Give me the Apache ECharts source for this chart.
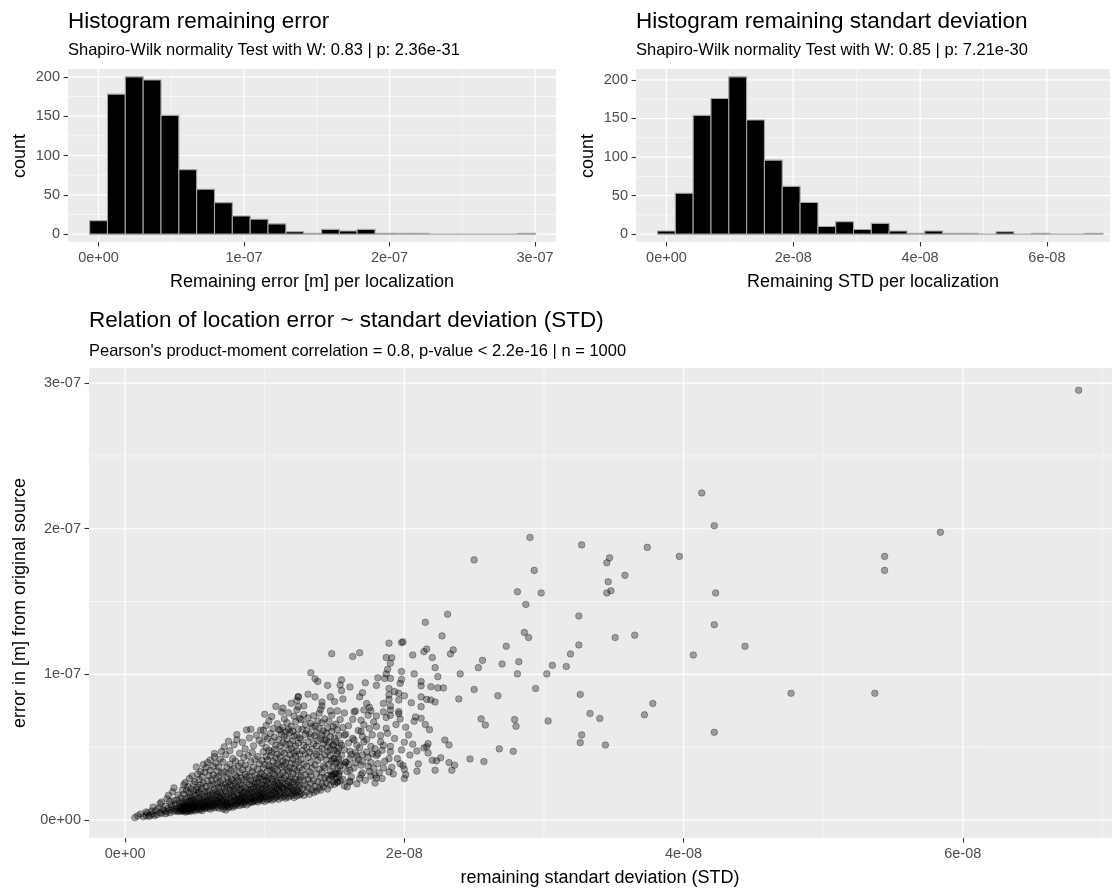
<!DOCTYPE html>
<html>
<head>
<meta charset="utf-8">
<script src="https://cdn.jsdelivr.net/npm/echarts@6/dist/echarts.min.js"></script>
<style>
  html, body { margin: 0; padding: 0; background: #ffffff; }
  #chart { width: 1114px; height: 890px; }
</style>
</head>
<body>
<div id="chart"></div>
<script>
// All lengths below are in nanometres (1 nm = 1e-9 m).

// ---- Histogram of the remaining error ----
const errBinCenters = [0, 12.26, 24.52, 36.78, 49.04, 61.3, 73.56, 85.82, 98.08, 110.34, 122.6, 134.86,
  147.12, 159.38, 171.64, 183.9, 196.16, 208.42, 220.68, 232.94, 245.2, 257.46, 269.72, 281.98, 294.24];
const errCounts = [17, 178, 200, 196, 151, 82, 57, 40, 23, 19, 13, 3, 1, 6, 4, 6, 1, 1, 1, 0, 0, 0, 0, 0, 1];

// ---- Histogram of the remaining standard deviation ----
const stdBinCenters = [0, 2.81, 5.62, 8.43, 11.24, 14.05, 16.86, 19.67, 22.48, 25.29, 28.1, 30.91,
  33.72, 36.53, 39.34, 42.15, 44.96, 47.77, 50.58, 53.39, 56.2, 59.01, 61.82, 64.63, 67.44];
const stdCounts = [4, 53, 154, 176, 204, 148, 96, 62, 41, 10, 16, 6, 14, 4, 1, 4, 1, 1, 0, 3, 0, 1, 0, 0, 1];

// ---- Tick values and labels ----
const errTickValues = [0, 100, 200, 300];
const errTickLabels = ['0e+00', '1e-07', '2e-07', '3e-07'];
const errMinorValues = [50, 150, 250];
const stdTickValues = [0, 20, 40, 60];
const stdTickLabels = ['0e+00', '2e-08', '4e-08', '6e-08'];
const stdMinorValues = [10, 30, 50, 70];
const countTickValues = [0, 50, 100, 150, 200];
const countTickLabels = ['0', '50', '100', '150', '200'];
const countMinorValues = [25, 75, 125, 175];

// ---- Scatter: [std, error] per localization ----
const lowCorner = [[0.7,1.6],[0.9,2.8],[1.1,4.1],[1.3,2.2],[1.5,3.0],[1.6,4.8],[1.7,2.4],[1.8,3.3],[1.9,6.1],[2.0,4.2],
  [2.1,2.9],[2.2,6.5],[2.3,3.7],[2.4,8.2],[2.5,11.2],[2.5,5.1],[2.6,12.3],[2.6,4.4],[2.7,7.0],[2.8,6.3],[2.9,4.3],
  [2.9,9.4],[3.0,14.6],[3.0,5.6],[3.1,17.0],[3.1,7.9],[3.2,12.8],[3.2,4.9],[3.3,10.2],[3.3,6.8],[3.4,8.7],[3.4,19.3],
  [3.5,22.0],[3.5,5.9],[3.5,13.4],[3.6,7.4],[3.6,10.9],[3.7,13.6],[3.7,6.1],[3.8,17.1],[3.8,8.3],[3.8,5.8],[3.9,9.1],
  [3.9,6.7],[3.9,11.8],[4.0,7.6],[4.0,15.2],[4.0,5.9],[4.0,9.8],[4.1,8.4],[4.1,6.4],[4.1,20.5],[4.1,12.6],[4.2,7.2],
  [4.2,9.3],[1.5,5.5],[2.0,8.8]];

// dense core, listed column by column: [std, [errors...]]
const denseColumns = [
  [4.2,[6.3,11.5,17.8,24.1,8.9]], [4.3,[5.4,9.7,14.3,25.6,7.5]], [4.4,[7.9,12.2,20.4,6.1,10.3,8.6]],
  [4.5,[5.8,8.1,15.6,22.9,9.2,7.0]], [4.6,[6.6,10.8,18.7,28.4,13.1]], [4.7,[7.3,9.5,12.9,21.3,16.2,5.9]],
  [4.8,[8.4,11.1,30.2,14.8,6.8]], [4.9,[7.7,19.9,10.1,24.7,13.6,9.0]], [5.0,[6.2,8.8,16.9,26.3,12.0]],
  [5.1,[36.4,9.9,14.1,20.8,7.1,11.7]], [5.2,[8.2,18.2,31.5,10.6,22.4]], [5.3,[6.9,12.5,15.3,27.8,9.4,19.1]],
  [5.4,[7.6,13.8,24.0,33.2,10.9]], [5.5,[8.5,11.3,17.4,29.6,6.4,21.7]], [5.6,[9.6,14.6,38.1,12.3,25.5]],
  [5.7,[8.9,10.4,19.5,32.8,16.0,7.8]], [5.8,[9.1,13.0,22.9,35.9,11.6]], [5.9,[39.4,8.0,15.8,26.9,18.9,10.7]],
  [6.0,[9.3,12.7,20.1,30.4,14.4]], [6.1,[7.4,11.0,17.0,34.1,23.6,41.2]], [6.2,[10.0,15.0,27.2,13.5,8.7]],
  [6.3,[9.8,18.4,36.8,12.1,24.5,31.0]], [6.4,[45.6,43.3,11.4,16.6,21.0,8.3]], [6.5,[10.5,14.0,28.7,38.9,19.6]],
  [6.6,[9.0,13.3,24.8,33.6,17.7,12.6]], [6.7,[36.4,11.9,15.7,22.2,8.1,29.9]], [6.8,[10.2,19.0,41.8,14.9,26.0]],
  [6.9,[12.8,9.5,32.3,17.3,23.1,47.0]],
  [7.0,[7.6,11.8,18.3,27.5,39.7,14.2]], [7.1,[8.9,13.6,21.9,33.1,10.4,50.2]], [7.2,[6.8,16.1,24.6,44.8,12.0,19.3]],
  [7.3,[9.7,14.5,29.2,36.0,11.2,22.7]], [7.4,[54.0,10.9,17.6,26.1,8.4,31.8]], [7.5,[12.3,20.5,38.3,15.4,9.2,47.5,24.0]],
  [7.6,[11.5,18.8,28.0,13.9,33.9]], [7.7,[10.1,16.4,23.3,42.1,8.7,27.0]], [7.8,[12.9,21.2,35.4,15.9,19.8,51.6]],
  [7.9,[9.6,14.3,25.2,30.7,11.1,40.4]], [8.0,[58.6,55.0,13.0,18.0,22.5,29.4,10.8]], [8.1,[12.2,16.8,26.7,36.9,14.7]],
  [8.2,[9.9,20.3,24.3,45.7,13.4,32.6]], [8.3,[11.9,17.2,28.9,15.1,39.0,21.5]], [8.4,[10.5,14.9,23.8,34.5,19.1,53.2]],
  [8.5,[13.2,18.5,27.6,42.9,16.3,11.4]], [8.6,[12.6,22.1,31.3,15.5,37.7,48.8]], [8.7,[10.3,19.6,25.9,14.1,61.8,29.8]],
  [8.8,[13.7,17.5,35.0,21.0,44.2]], [8.9,[11.6,16.0,24.4,30.1,18.6,56.3]], [9.0,[62.3,12.5,20.9,27.3,39.9,15.2]],
  [9.1,[14.4,18.1,23.0,33.0,12.1,46.4]], [9.2,[13.1,21.8,26.4,16.7,51.0,36.2]], [9.3,[15.6,19.4,30.9,12.8,41.5,24.9]],
  [9.4,[14.0,17.9,22.6,28.3,58.1]], [9.5,[12.4,16.5,25.7,34.8,20.2,43.6]], [9.6,[13.8,18.7,29.1,38.6,23.4,54.7]],
  [9.7,[15.3,21.4,27.9,32.2,17.1,61.6,14.6]],
  [9.8,[13.3,19.0,24.2,31.6,40.8,52.5,16.2]], [9.9,[61.6,14.8,21.6,27.4,35.7,46.9,18.4]],
  [10.0,[72.6,12.7,17.3,23.7,30.0,38.1,57.2]], [10.1,[22.9,15.9,20.0,26.8,43.4,49.7,64.9]],
  [10.2,[13.9,18.2,25.0,33.5,41.1,55.8,28.6]], [10.3,[16.6,21.1,29.7,37.2,47.8,68.0,14.3]],
  [10.4,[15.0,19.8,24.7,34.3,44.0,59.4]], [10.5,[46.7,17.8,22.4,28.2,36.6,53.9,13.6,71.0]],
  [10.6,[16.9,20.6,26.2,31.9,40.2,62.7]], [10.7,[14.5,19.3,23.9,30.5,48.5,57.0,35.1]],
  [10.8,[78.0,18.0,22.0,27.1,42.6,51.3,15.7]], [10.9,[16.4,21.3,25.6,33.8,45.2,66.1,38.7]],
  [11.0,[14.2,20.4,29.0,37.9,55.1,61.8,24.1]], [11.1,[61.8,17.0,23.5,31.2,43.1,50.6,19.1]],
  [11.2,[15.5,22.8,27.7,36.3,47.0,58.8,74.2]], [11.3,[76.8,18.6,25.3,32.7,40.6,53.0,21.8,63.5]],
  [11.4,[37.6,16.1,20.8,28.4,45.9,57.7,69.3]], [11.5,[17.4,24.6,30.3,39.4,51.8,60.5,14.9]],
  [11.6,[19.6,23.2,34.6,42.3,55.6,66.8]], [11.7,[15.8,21.7,26.5,33.3,48.2,62.1,73.6]],
  [11.8,[18.3,27.8,36.0,44.7,52.2,59.9,23.0]], [11.9,[16.7,22.2,29.5,39.0,49.1,64.3,80.1]],
  [12.0,[17.7,25.9,32.0,41.7,54.4,61.0,20.2]], [12.1,[71.3,19.9,24.3,35.3,46.1,57.5,15.4]],
  [12.2,[18.8,28.1,38.4,43.8,50.9,67.4]], [12.3,[75.5,21.0,26.0,33.7,47.4,58.3,16.5,82.0]],
  [12.4,[84.7,19.2,23.6,30.8,40.0,52.7,62.6]], [12.5,[17.2,27.3,35.8,44.9,56.4,69.8,22.5]],
  [12.6,[18.1,29.6,41.4,55.3,68.9]], [12.7,[21.5,34.2,47.6,62.0]], [12.8,[16.8,26.7,38.5,51.2,72.4]],
  [12.9,[24.0,31.1,45.3,58.7,65.5]], [13.0,[19.4,36.9,49.9,61.3]], [13.1,[28.0,42.8,53.6,70.1,22.3]],
  [13.2,[17.6,33.0,46.5,59.2]], [13.3,[25.1,39.6,56.8,66.2,30.3]], [13.4,[20.7,35.5,48.7,63.9]],
  [13.5,[27.2,43.9,52.4,71.5,18.9]], [13.6,[23.1,37.8,57.9,64.6]], [13.7,[31.7,45.0,60.2,19.7,50.8]],
  [13.8,[26.3,40.9,54.5,68.0]], [13.9,[21.9,34.8,47.2,62.9,73.3]], [14.0,[29.3,43.0,55.9,20.5]],
  [14.1,[32.5,49.0,58.5,66.7,24.9]], [14.2,[37.1,52.0,61.1,22.7]], [14.3,[28.8,44.6,54.9,69.4,35.9]],
  [14.4,[25.6,41.3,55.0,59.7]], [14.5,[30.6,46.8,63.2,21.2,50.3]], [14.6,[38.2,53.3,67.6,27.7]],
  [14.7,[33.4,44.2,57.1,23.8,48.4]], [14.8,[29.9,40.4,60.8,71.9]], [14.9,[36.5,51.6,64.0,26.4,31.4]],
  [15.0,[24.5,42.0,56.1,47.9]], [15.1,[32.0,39.2,53.8,28.5,65.8]], [15.2,[35.2,45.5,61.9,25.8]],
  [15.3,[30.1,49.4,58.0,41.9]], [15.4,[27.0,37.4,52.8,69.0,33.6]]
];

// looser band of the cloud, std about 15 to 24 nm
const midCloud = [[20.8,70.7],[21.2,69.8],[20.7,67.8],[21.5,65.5],[21.8,62.0],[20.1,63.7],[20.3,58.4],[20.0,53.4],
  [19.4,65.5],[19.7,69.4],[19.6,73.0],[22.9,54.9],[23.2,51.5],[21.7,52.4],[21.6,50.3],[21.4,49.5],[20.9,47.4],
  [21.7,46.0],[21.0,38.5],[22.0,41.0],[22.3,40.6],[22.6,42.7],[23.2,39.4],[23.6,37.6],[23.4,34.1],[22.2,34.1],
  [20.0,28.4],[20.1,31.1],[20.0,34.8],[19.9,37.4],[19.5,42.1],[19.7,38.6],[19.2,31.6],[18.9,33.0],[18.5,35.7],
  [18.9,42.1],[18.4,28.4],[17.9,25.4],[18.0,28.8],[17.9,30.7],[17.5,33.4],[17.4,36.8],[17.6,39.5],[16.8,28.4],
  [17.0,32.3],[16.9,37.6],[16.7,41.6],[16.1,26.6],[16.1,34.1],[16.0,37.9],[16.5,39.3],[15.8,39.8],[18.5,51.2],
  [19.0,50.5],[18.3,53.6],[18.8,59.5],[18.3,58.0],[17.6,50.5],[17.1,53.6],[17.8,67.3],[18.0,71.4],[17.4,71.9],
  [16.9,68.5],[17.0,57.3],[16.9,60.8],[18.7,70.3],[19.0,71.9],[18.1,45.4],[18.0,44.3],[17.7,45.4],[17.0,44.7],
  [17.3,46.7],[16.6,51.3],[16.4,54.9],[16.1,47.2],[16.2,44.9],[15.8,39.4],[15.7,37.6],[15.3,31.8],[15.0,31.4],
  [14.8,30.7],[15.2,26.1],[15.7,23.4],[15.9,22.7],[16.1,26.1],[15.3,39.8],[14.9,42.1],[15.5,44.4],[15.2,47.2],
  [14.9,51.3],[15.5,51.3],[15.7,58.2],[15.6,63.4],
  [15.6,27.9],[15.7,48.3],[15.8,58.9],[15.9,33.2],[16.0,64.7],[16.1,42.2],[16.2,29.5],[16.3,56.0],[16.3,69.1],
  [16.4,35.7],[16.5,46.3],[16.6,24.8],[16.7,61.4],[16.8,49.6],[16.9,31.0],[17.0,40.1],[17.1,65.3],[17.2,27.2],
  [17.3,55.2],[17.4,43.0],[17.5,62.8],[17.6,30.1],[17.7,58.4],[17.8,35.3],[17.9,48.9],[18.0,64.1],[18.1,38.7],
  [18.2,32.4],[16.0,52.9],[16.6,44.0],
  [18.6,40.3],[19.0,46.8],[19.3,55.9],[19.8,48.1],[20.4,44.6],[18.7,63.0],[20.6,52.0],[19.1,36.2],[20.9,33.5],[18.4,47.9]];

// upper edge of the cloud, errors above about 72 nm
const upperCloud = [[23.1,141.3],[21.5,135.7],[22.7,126.4],[19.8,121.8],[19.9,122.3],[18.9,121.4],[23.5,116.8],
  [21.6,117.4],[21.4,115.6],[23.3,114.0],[14.8,114.2],[16.3,112.3],[16.8,114.8],[20.6,113.3],[22.0,111.5],
  [18.7,111.6],[19.1,111.4],[19.0,107.6],[22.2,104.6],[18.8,103.4],[18.7,100.3],[19.8,102.0],[20.7,100.3],
  [22.4,98.4],[24.0,100.3],[13.3,101.1],[13.6,96.9],[13.8,95.1],[15.5,96.2],[18.1,97.6],[18.6,97.2],[19.0,97.2],
  [19.8,96.5],[19.7,93.8],[17.2,94.2],[21.2,95.1],[21.2,92.1],[14.5,92.4],[15.4,92.7],[15.5,88.8],[16.1,91.3],
  [18.0,92.4],[18.9,90.3],[21.9,91.5],[22.4,90.7],[22.8,90.7],[12.4,84.5],[13.1,86.3],[13.6,84.5],[14.7,84.5],
  [15.0,81.3],[14.1,81.0],[14.1,78.3],[15.6,83.1],[17.0,87.4],[16.8,84.5],[18.9,85.9],[18.9,82.8],[19.6,87.0],
  [19.3,88.1],[20.0,85.3],[17.3,80.0],[17.5,77.3],[18.5,80.0],[19.0,78.3],[19.0,75.5],[19.6,82.4],[20.5,80.5],
  [21.2,84.5],[21.6,82.8],[21.9,82.4],[22.2,81.0],[21.2,77.8],[23.9,83.1],[12.4,77.8],[12.8,78.3],[14.0,75.9],
  [14.7,74.9],[15.2,74.9],[15.7,73.5],[16.4,74.2],[16.5,74.8],[17.1,75.5],[17.6,74.9],[18.5,74.2],[19.6,74.4]];

// scattered localizations with large std
const outerPoints = [[68.3,295.1],[41.3,224.6],[42.2,202.1],[58.4,197.6],[54.4,181.0],[54.4,171.4],[42.3,155.9],
  [42.2,134.1],[44.4,119.3],[40.7,113.3],[47.7,87.0],[53.7,87.0],[42.2,60.2],[39.7,181.0],[37.4,187.2],[34.7,180.0],
  [34.5,176.6],[32.7,188.9],[35.8,168.0],[34.6,163.6],[34.8,157.4],[34.5,155.9],[29.0,194.0],[25.0,178.6],
  [29.3,171.4],[28.1,156.7],[29.8,155.9],[28.7,148.0],[28.6,128.8],[28.9,125.3],[32.5,140.1],[32.5,120.2],
  [35.1,125.3],[36.5,126.9],[31.9,114.0],[30.6,106.2],[31.6,105.4],[30.2,100.3],[27.3,119.3],[28.2,108.7],
  [27.0,107.1],[25.6,109.6],[25.3,104.6],[28.1,100.3],[29.4,90.3],[25.0,89.6],[26.7,85.3],[32.6,86.2],[37.8,80.0],
  [37.2,72.2],[33.3,73.1],[34.0,69.7],[30.3,68.0],[27.9,68.9],[28.0,64.3],[25.5,69.4],[25.8,65.2],[32.7,58.4],
  [32.6,53.1],[34.4,51.5],[26.8,48.8],[27.8,47.1],[24.7,41.9],[25.7,40.1]];

// ---- Drawing ----
const FONT = '"Liberation Sans", Arial, sans-serif';
const PANEL_BG = '#EBEBEB';

function flattenColumns(cols) {
  const out = [];
  cols.forEach(([s, errs]) => errs.forEach(e => out.push([s, e])));
  return out;
}
const scatterData = [].concat(lowCorner, flattenColumns(denseColumns), midCloud, upperCloud, outerPoints);

function valueAxis(gridIndex, min, max, ticks, labels) {
  return {
    gridIndex, type: 'value', min, max,
    axisLine: { show: false, onZero: false },
    splitLine: { show: false },
    axisTick: { show: true, inside: false, customValues: ticks, length: 4.5, lineStyle: { color: '#333333', width: 1.1 } },
    axisLabel: {
      show: true, customValues: ticks, margin: 8,
      formatter: v => { const i = ticks.indexOf(v); return i >= 0 ? labels[i] : ''; },
      color: '#4D4D4D', fontSize: 14.5, fontFamily: FONT
    }
  };
}

// white major/minor panel grid lines
function gridLineSeries(idx, xMajor, xMinor, yMajor, yMinor) {
  const data = [];
  xMinor.forEach(v => data.push([0, v, 0.6]));
  yMinor.forEach(v => data.push([1, v, 0.6]));
  xMajor.forEach(v => data.push([0, v, 1.2]));
  yMajor.forEach(v => data.push([1, v, 1.2]));
  return {
    type: 'custom', xAxisIndex: idx, yAxisIndex: idx, silent: true, z: 1,
    data,
    renderItem: (params, api) => {
      const cs = params.coordSys;
      const kind = api.value(0), v = api.value(1), w = api.value(2);
      if (kind === 0) {
        const x = api.coord([v, 0])[0];
        if (x < cs.x - 1 || x > cs.x + cs.width + 1) return null;
        return { type: 'line', shape: { x1: x, y1: cs.y, x2: x, y2: cs.y + cs.height },
                 style: { stroke: '#FFFFFF', lineWidth: w } };
      }
      const y = api.coord([0, v])[1];
      return { type: 'line', shape: { x1: cs.x, y1: y, x2: cs.x + cs.width, y2: y },
               style: { stroke: '#FFFFFF', lineWidth: w } };
    }
  };
}

function histogramSeries(idx, centers, counts) {
  const binWidth = centers[1] - centers[0];
  return {
    type: 'custom', xAxisIndex: idx, yAxisIndex: idx, z: 2, silent: true,
    data: centers.map((c, i) => [c, counts[i]]),
    renderItem: (params, api) => {
      const c = api.value(0), n = api.value(1);
      const p0 = api.coord([c - binWidth / 2, n]);
      const p1 = api.coord([c + binWidth / 2, 0]);
      return { type: 'rect',
               shape: { x: p0[0], y: p0[1], width: p1[0] - p0[0], height: p1[1] - p0[1] },
               style: { fill: '#000000', stroke: '#A3A3A3', lineWidth: 1.1 } };
    }
  };
}

function label(text, x, y, size, align, rotated) {
  const el = {
    type: 'text', x, y, silent: true,
    style: { text, fill: '#000000', font: size + 'px ' + FONT, align: align || 'left', verticalAlign: 'middle' }
  };
  if (rotated) el.rotation = Math.PI / 2;
  return el;
}

const option = {
  animation: false,
  backgroundColor: '#FFFFFF',
  grid: [
    { left: 68, top: 69, width: 488, height: 173, show: true, backgroundColor: PANEL_BG, borderWidth: 0, outerBoundsMode: 'none' },
    { left: 636, top: 69, width: 474, height: 173, show: true, backgroundColor: PANEL_BG, borderWidth: 0, outerBoundsMode: 'none' },
    { left: 89, top: 368, width: 1023, height: 470, show: true, backgroundColor: PANEL_BG, borderWidth: 0, outerBoundsMode: 'none' }
  ],
  xAxis: [
    valueAxis(0, -21.0, 314.4, errTickValues, errTickLabels),
    valueAxis(1, -4.8, 69.95, stdTickValues, stdTickLabels),
    valueAxis(2, -2.59, 70.69, stdTickValues, stdTickLabels)
  ],
  yAxis: [
    valueAxis(0, -10, 210, countTickValues, countTickLabels),
    valueAxis(1, -10.2, 214.2, countTickValues, countTickLabels),
    valueAxis(2, -12.4, 310.4, errTickValues, errTickLabels)
  ],
  series: [
    gridLineSeries(0, errTickValues, errMinorValues, countTickValues, countMinorValues),
    gridLineSeries(1, stdTickValues, stdMinorValues, countTickValues, countMinorValues),
    gridLineSeries(2, stdTickValues, stdMinorValues, errTickValues, errMinorValues),
    histogramSeries(0, errBinCenters, errCounts),
    histogramSeries(1, stdBinCenters, stdCounts),
    {
      type: 'scatter', xAxisIndex: 2, yAxisIndex: 2, z: 2, silent: true,
      symbol: 'circle', symbolSize: 6.6,
      itemStyle: { color: 'rgba(0,0,0,0.33)', borderColor: 'rgba(0,0,0,0.33)', borderWidth: 0.9, opacity: 1 },
      data: scatterData
    }
  ],
  graphic: [
    label('Histogram remaining error', 68, 22, 22.5),
    label('Shapiro-Wilk normality Test with W: 0.83 | p: 2.36e-31', 68, 50, 16.5),
    label('Histogram remaining standart deviation', 636, 22, 22.5),
    label('Shapiro-Wilk normality Test with W: 0.85 | p: 7.21e-30', 636, 50, 16.5),
    label('Relation of location error ~ standart deviation (STD)', 89, 321, 22.5),
    label("Pearson's product-moment correlation = 0.8, p-value < 2.2e-16 | n = 1000", 89, 351, 16.5),
    label('Remaining error [m] per localization', 312, 282, 18, 'center'),
    label('Remaining STD per localization', 873, 282, 18, 'center'),
    label('remaining standart deviation (STD)', 600, 878, 18, 'center'),
    label('count', 20, 156, 18, 'center', true),
    label('count', 588, 156, 18, 'center', true),
    label('error in [m] from original source', 20, 603, 18, 'center', true)
  ]
};

const chart = echarts.init(document.getElementById('chart'), null, { renderer: 'canvas' });
chart.setOption(option);
</script>
</body>
</html>
